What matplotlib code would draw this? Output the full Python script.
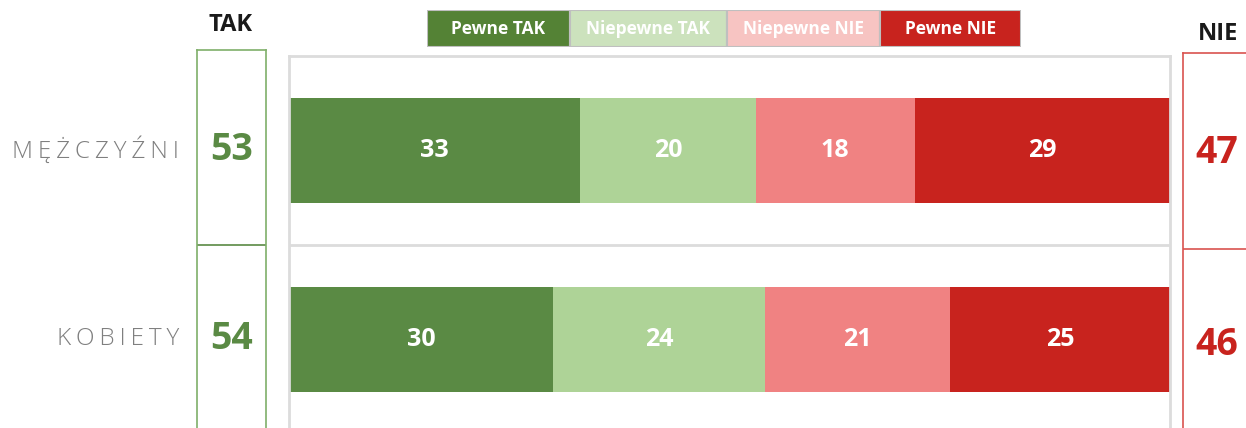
import matplotlib
matplotlib.use("Agg")
import matplotlib.pyplot as plt
import numpy as np

# dane
kategorie = ["MĘŻCZYŹNI", "KOBIETY"]
serie = ["Pewne TAK", "Niepewne TAK", "Niepewne NIE", "Pewne NIE"]
pewne_tak = [33, 30]
niepewne_tak = [20, 24]
niepewne_nie = [18, 21]
pewne_nie = [29, 25]

# kolory
kolory_slupkow = ["#5A8A44", "#AED397", "#F08282", "#C8231E"]
kolory_legendy = ["#548235", "#CCE2BD", "#F7C4C2", "#C8231E"]
ZIELONY = "#5A8A44"
CZERWONY = "#C8231E"
SZARY = "#DCDCDC"

plt.rcParams["font.family"] = ["Open Sans", "DejaVu Sans"]

W, H = 1246, 428
fig = plt.figure(figsize=(W / 100, H / 100), dpi=100)


def px(x0, y0, x1, y1):
    # prostokat w pikselach -> wspolrzedne figury
    return [x0 / W, 1 - y1 / H, (x1 - x0) / W, (y1 - y0) / H]


dane = np.array([pewne_tak, niepewne_tak, niepewne_nie, pewne_nie])
y = np.arange(len(kategorie))

# glowny wykres slupkowy
ax = fig.add_axes(px(289, 56, 1170, 428))
lewo = np.zeros(len(kategorie))
for i, wart in enumerate(dane):
    ax.barh(y, wart, left=lewo, height=0.556, color=kolory_slupkow[i], edgecolor="none")
    for yy, l, v in zip(y, lewo, wart):
        ax.text(l + v / 2, yy, str(v), ha="center", va="center", color="white",
                fontsize=18, fontweight="bold")
    lewo += wart
ax.set_xlim(0, 100)
ax.set_ylim(1.47, -0.5)
ax.axhline(0.5, color=SZARY, lw=2)
ax.set_xticks([])
ax.set_yticks([])
for s in ["top", "left", "right"]:
    ax.spines[s].set_color(SZARY)
    ax.spines[s].set_linewidth(2)
ax.spines["bottom"].set_visible(False)

# etykiety kategorii
for yy, k in zip(y, kategorie):
    ax.text(-0.125, yy, "\u2009".join(k), transform=ax.get_yaxis_transform(),
            ha="right", va="center", color="#7F7F7F", fontsize=17.5, fontweight="light")

# suma TAK
tak = dane[0] + dane[1]
ax_tak = fig.add_axes(px(197, 50, 266, 428))
ax_tak.set_xlim(0, 1)
ax_tak.set_ylim(1.47, -0.53)
ax_tak.axhline(0.5, color=ZIELONY, lw=1.2)
for s in ["top", "left", "right"]:
    ax_tak.spines[s].set_color("#7FAF6A")
    ax_tak.spines[s].set_linewidth(1.2)
ax_tak.spines["bottom"].set_visible(False)
ax_tak.set_xticks([])
ax_tak.set_yticks([])
for yy, v in zip(y, tak):
    ax_tak.text(0.5, yy, str(v), ha="center", va="center", color=ZIELONY,
                fontsize=27, fontweight="bold")
fig.text(231 / W, 1 - 25 / H, "TAK", ha="center", va="center", fontsize=17,
         fontweight="bold", color="#1A1A1A")

# suma NIE
nie = dane[2] + dane[3]
ax_nie = fig.add_axes(px(1183, 53, 1251, 428))
ax_nie.set_xlim(0, 1)
ax_nie.set_ylim(1.43, -0.52)
ax_nie.axhline(0.5, color="#D9534F", lw=1.2)
for s in ["top", "left"]:
    ax_nie.spines[s].set_color("#D9534F")
    ax_nie.spines[s].set_linewidth(1.2)
ax_nie.spines["bottom"].set_visible(False)
ax_nie.spines["right"].set_visible(False)
ax_nie.set_xticks([])
ax_nie.set_yticks([])
for yy, v in zip(y, nie):
    ax_nie.text(0.5, yy, str(v), ha="center", va="center", color=CZERWONY,
                fontsize=27, fontweight="bold")
fig.text(1218 / W, 1 - 34 / H, "NIE", ha="center", va="center", fontsize=17,
         fontweight="bold", color="#1A1A1A")

# legenda
szer_legendy = [143, 157, 153, 141]
ax_leg = fig.add_axes(px(427, 10, 1021, 47))
start = np.concatenate([[0], np.cumsum(szer_legendy)[:-1]])
ax_leg.barh(0, szer_legendy, left=start, height=1, color=kolory_legendy,
            edgecolor="#BFBFBF", linewidth=1.5)
for s0, w, nazwa in zip(start, szer_legendy, serie):
    ax_leg.text(s0 + w / 2, 0, nazwa, ha="center", va="center", color="white",
                fontsize=12.5, fontweight="bold")
ax_leg.set_xlim(0, sum(szer_legendy))
ax_leg.set_ylim(-0.5, 0.5)
ax_leg.axis("off")

fig.savefig("out.png", dpi=100)
